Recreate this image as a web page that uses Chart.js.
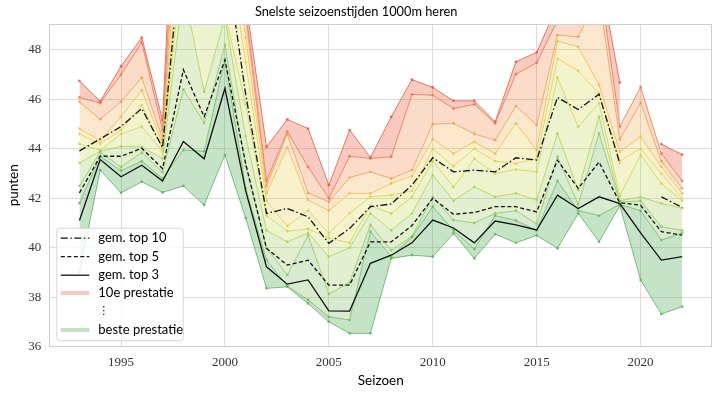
<!DOCTYPE html>
<html>
<head>
<meta charset="utf-8">
<script src="https://cdn.jsdelivr.net/npm/chart.js@4.4.0/dist/chart.umd.min.js"></script>
<style>
body { margin: 0; background: #fff; }
#wrap { width: 720px; height: 396px; }
</style>
</head>
<body>
<div id="wrap"><canvas id="canvas"></canvas></div>
<script>
// seasons 1993 .. 2022
var seasons = [1993, 1994, 1995, 1996, 1997, 1998, 1999, 2000, 2001, 2002,
               2003, 2004, 2005, 2006, 2007, 2008, 2009, 2010, 2011, 2012,
               2013, 2014, 2015, 2016, 2017, 2018, 2019, 2020, 2021, 2022];

// ranked season results (punten), best first
var rank1  = [39.0, 43.14, 42.22, 42.67, 42.24, 42.5, 41.73, 43.75, 41.2, 38.36, 38.42, 37.75, 37.01, 36.54, 36.54, 39.57, 39.7, 39.64, 40.58, 39.57, 40.55, 40.2, 40.5, 39.98, 41.39, 40.24, 41.7, 38.7, 37.32, 37.62];
var rank2  = [41.8, 43.7, 43.12, 43.5, 42.8, 43.95, 43.9, 47.6, 42.4, 39.5, 38.45, 37.89, 37.21, 37.08, 40.65, 39.64, 40.44, 41.66, 40.7, 39.95, 41.3, 41.1, 40.7, 42.7, 41.5, 41.3, 41.75, 41.5, 40.31, 40.6];
var rank3  = [42.5, 43.87, 43.27, 43.85, 43.06, 46.4, 45.05, 48.2, 43.3, 40.0, 38.9, 40.5, 38.13, 38.6, 40.92, 39.9, 40.46, 42.06, 41.12, 41.0, 41.39, 41.5, 40.96, 43.68, 41.75, 44.62, 41.85, 41.9, 40.85, 40.7];
var rank4  = [43.43, 43.9, 44.1, 44.08, 43.6, 50.5, 46.3, 49.3, 44.5, 40.7, 40.24, 40.6, 39.64, 40.0, 41.39, 40.7, 41.39, 42.94, 41.9, 42.46, 42.06, 42.2, 41.93, 44.62, 42.33, 45.3, 41.9, 42.06, 41.79, 41.6];
var rank5  = [44.2, 43.95, 44.6, 44.9, 43.9, 52, 49.5, 49.5, 45.8, 41.3, 40.67, 40.76, 40.4, 40.2, 41.7, 41.39, 42.06, 43.5, 42.46, 43.6, 43.0, 43.17, 43.07, 46.88, 44.89, 45.86, 42.1, 43.75, 42.6, 41.9];
var rank6  = [44.6, 44.2, 44.76, 45.77, 44.0, 54, 52, 53, 47.5, 41.9, 40.88, 41.5, 40.58, 41.4, 42.06, 42.13, 42.3, 44.0, 43.3, 44.01, 43.5, 43.4, 43.6, 47.65, 47.15, 46.24, 43.5, 44.01, 43.0, 42.0];
var rank7  = [44.82, 44.33, 45.3, 46.37, 44.2, 56, 54, 55, 48.5, 42.2, 44.06, 41.93, 41.5, 42.2, 42.2, 42.6, 42.9, 44.39, 43.81, 44.28, 43.81, 45.03, 43.95, 48.36, 48.12, 46.6, 43.88, 44.5, 43.27, 42.2];
var rank8  = [45.9, 45.2, 45.9, 46.88, 44.4, 58, 56, 57, 49.3, 42.5, 44.6, 42.22, 41.86, 42.84, 43.07, 42.8, 43.14, 45.0, 45.03, 44.6, 44.35, 45.73, 44.96, 48.6, 48.53, 50.2, 44.38, 45.86, 43.5, 42.4];
var rank9  = [46.08, 45.85, 47.0, 48.3, 44.76, 60, 58, 59, 49.6, 42.7, 44.7, 43.27, 42.0, 43.7, 43.61, 43.68, 46.2, 46.17, 45.63, 45.8, 45.03, 47.02, 47.48, 49.2, 49.5, 51.0, 44.9, 46.5, 43.81, 42.7];
var rank10 = [46.75, 45.92, 47.34, 48.5, 45.16, 63, 60, 61, 50.0, 44.08, 45.19, 44.82, 42.53, 44.76, 43.65, 45.29, 46.8, 46.48, 45.94, 45.94, 45.09, 47.52, 47.9, 49.8, 50.5, 51.2, 46.68, null, 44.19, 43.77];

// averages
var avgTop10 = [43.92, 44.4, 44.9, 45.63, 44.05, 53, 51, 52, 46.2, 41.39, 41.59, 41.25, 40.18, 40.78, 41.66, 41.77, 42.53, 43.64, 43.07, 43.14, 43.07, 43.64, 43.55, 46.08, 45.59, 46.21, 43.41, null, 42.06, 41.63];
var avgTop5  = [42.22, 43.7, 43.7, 44.02, 43.2, 47.2, 45.3, 47.6, 43.4, 39.98, 39.3, 39.5, 38.49, 38.49, 40.24, 40.24, 40.9, 42.0, 41.35, 41.43, 41.66, 41.66, 41.45, 43.54, 42.4, 43.47, 41.82, 41.72, 40.65, 40.51];
var avgTop3  = [41.1, 43.57, 42.87, 43.34, 42.7, 44.3, 43.6, 46.45, 42.3, 39.23, 38.53, 38.7, 37.45, 37.44, 39.37, 39.7, 40.2, 41.12, 40.8, 40.2, 41.08, 40.93, 40.72, 42.13, 41.59, 42.06, 41.79, 40.6, 39.5, 39.64];

var xTicks = [1995, 2000, 2005, 2010, 2015, 2020];
var yTicks = [36, 38, 40, 42, 44, 46, 48];

var ranks = [rank1, rank2, rank3, rank4, rank5, rank6, rank7, rank8, rank9, rank10];
var lineColors = ['rgba(90,170,90,0.75)', 'rgba(110,180,95,0.75)', 'rgba(140,195,90,0.75)', 'rgba(170,205,85,0.75)',
                  'rgba(200,210,80,0.75)', 'rgba(220,205,75,0.75)', 'rgba(235,185,75,0.75)', 'rgba(240,150,80,0.75)',
                  'rgba(235,110,75,0.75)', 'rgba(225,80,60,0.75)'];
var bandColors = [null, 'rgba(80,170,85,0.33)', 'rgba(120,190,95,0.3)', 'rgba(160,205,95,0.3)', 'rgba(195,215,90,0.3)',
                  'rgba(220,220,85,0.3)', 'rgba(235,205,85,0.3)', 'rgba(242,175,85,0.3)', 'rgba(240,140,75,0.3)',
                  'rgba(235,95,65,0.33)'];

function points(vals) {
    return seasons.map(function (s, i) { return {x: s, y: vals[i]}; });
}

var datasets = ranks.map(function (vals, i) {
    return {
        label: 'rank ' + (i + 1),
        data: points(vals),
        borderColor: lineColors[i],
        backgroundColor: bandColors[i] || 'rgba(0,0,0,0)',
        pointBackgroundColor: lineColors[i],
        pointBorderWidth: 0,
        pointRadius: 1.4,
        borderWidth: 1,
        fill: i === 0 ? false : '-1',
        tension: 0,
        spanGaps: false
    };
});

datasets.push({label: 'gem. top 10', data: points(avgTop10), borderColor: '#111', borderWidth: 1.3,
    borderDash: [7, 2.5, 1.5, 2.5], pointRadius: 0, fill: false, tension: 0, order: -1});
datasets.push({label: 'gem. top 5', data: points(avgTop5), borderColor: '#111', borderWidth: 1.3,
    borderDash: [4, 2.5], pointRadius: 0, fill: false, tension: 0, order: -1});
datasets.push({label: 'gem. top 3', data: points(avgTop3), borderColor: '#111', borderWidth: 1.3,
    pointRadius: 0, fill: false, tension: 0, order: -1});

var frameAndLegend = {
    id: 'frameAndLegend',
    afterDraw: function (chart) {
        var ctx = chart.ctx, a = chart.chartArea;
        ctx.save();
        ctx.strokeStyle = '#cfcfcf';
        ctx.lineWidth = 1;
        ctx.strokeRect(Math.round(a.left) + 0.5, Math.round(a.top) + 0.5,
                       Math.round(a.right - a.left) - 1, Math.round(a.bottom - a.top) - 1);

        // legend box
        var bx = a.left + 7.5, by = a.bottom - 118.5, bw = 126.5, bh = 112.5;
        ctx.beginPath();
        ctx.roundRect(bx, by, bw, bh, 3);
        ctx.fillStyle = 'rgba(255,255,255,0.8)';
        ctx.fill();
        ctx.strokeStyle = '#d6d6d6';
        ctx.stroke();

        var items = [
            {text: 'gem. top 10', dash: [7, 2.5, 1.5, 2.5], color: '#111', w: 1.3},
            {text: 'gem. top 5', dash: [4, 2.5], color: '#111', w: 1.3},
            {text: 'gem. top 3', dash: [], color: '#111', w: 1.3},
            {text: '10e prestatie', dash: [], color: 'rgba(240,120,100,0.4)', w: 4},
            {text: '\u22ee', dash: null},
            {text: 'beste prestatie', dash: [], color: 'rgba(100,180,100,0.4)', w: 4}
        ];
        var rowY = [10, 28.5, 47, 64.8, 82.5, 101.8];
        ctx.textBaseline = 'middle';
        ctx.fillStyle = '#000';
        items.forEach(function (it, i) {
            var y = by + rowY[i];
            if (it.dash) {
                ctx.beginPath();
                ctx.setLineDash(it.dash);
                ctx.strokeStyle = it.color;
                ctx.lineWidth = it.w;
                ctx.moveTo(bx + 4, y);
                ctx.lineTo(bx + 32.5, y);
                ctx.stroke();
                ctx.setLineDash([]);
                ctx.font = '13px Lato';
            } else {
                ctx.font = '11px "DejaVu Sans"';
            }
            ctx.fillText(it.text, bx + 41.5, y);
        });
        ctx.restore();
    }
};

var ctx = document.getElementById('canvas').getContext('2d');
window.SeasonChart = new Chart(ctx, {
    type: 'line',
    data: {datasets: datasets},
    plugins: [frameAndLegend],
    options: {
        responsive: true,
        maintainAspectRatio: false,
        animation: false,
        layout: {padding: {left: 0, right: 7.7, top: 0, bottom: 0}},
        plugins: {
            legend: {display: false},
            tooltip: {enabled: false},
            title: {
                display: true,
                text: 'Snelste seizoenstijden 1000m heren',
                color: '#000',
                font: {family: 'Lato', size: 12.8, weight: 'normal'},
                padding: {top: 4.6, bottom: 4}
            }
        },
        scales: {
            x: {
                type: 'linear',
                min: 1991.55,
                max: 2023.45,
                afterFit: function (scale) { scale.height = 49.3; },
                afterBuildTicks: function (scale) {
                    scale.ticks = xTicks.map(function (v) { return {value: v}; });
                },
                ticks: {
                    callback: function (v) { return String(v); },
                    font: {family: 'Liberation Serif', size: 13},
                    color: '#333',
                    padding: 8,
                    maxRotation: 0
                },
                grid: {color: '#dcdcdc', drawTicks: false},
                border: {display: false},
                title: {
                    display: true,
                    text: 'Seizoen',
                    color: '#000',
                    font: {family: 'Lato', size: 13.5},
                    padding: {top: 0, bottom: 6.9}
                }
            },
            y: {
                min: 36,
                max: 49.05,
                afterFit: function (scale) { scale.width = 49.3; },
                afterBuildTicks: function (scale) {
                    scale.ticks = yTicks.map(function (v) { return {value: v}; });
                },
                ticks: {
                    font: {family: 'Liberation Serif', size: 13},
                    color: '#333',
                    padding: 8
                },
                grid: {color: '#dcdcdc', drawTicks: false},
                border: {display: false},
                title: {
                    display: true,
                    text: 'punten',
                    color: '#000',
                    font: {family: 'Lato', size: 13.5},
                    padding: {top: 5.9, bottom: 0}
                }
            }
        }
    }
});
</script>
</body>
</html>
